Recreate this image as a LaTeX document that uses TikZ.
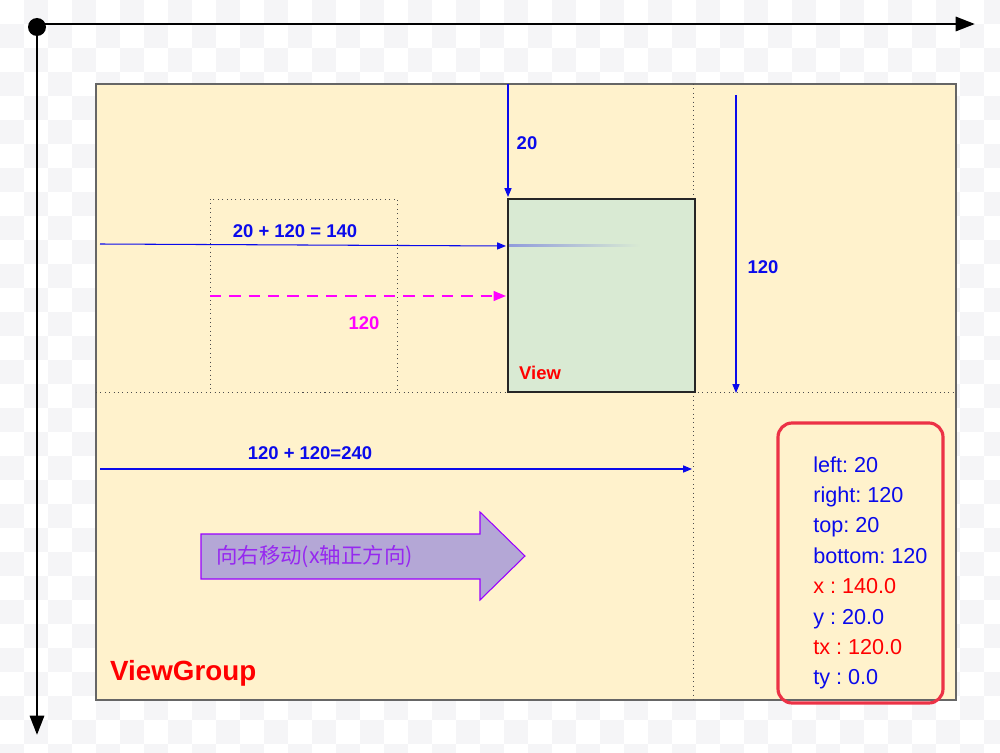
\documentclass[tikz,border=0pt]{standalone}
\usepackage{fontspec}
\setmainfont{Liberation Sans}
\newfontfamily\cjk{Noto Sans CJK SC}
\usetikzlibrary{arrows.meta}
\definecolor{groupyellow}{RGB}{255,242,204}
\definecolor{viewgreen}{RGB}{217,234,211}
\definecolor{measureblue}{RGB}{10,10,235}
\definecolor{shiftmagenta}{RGB}{255,0,255}
\definecolor{infored}{RGB}{236,50,70}
\definecolor{movefill}{RGB}{180,167,214}
\definecolor{moveline}{RGB}{153,0,255}
\definecolor{movetext}{RGB}{150,40,240}
\definecolor{checkgray}{RGB}{245,245,247}
\frenchspacing

\begin{document}
\begin{tikzpicture}[
    x=0.2mm, y=-0.2mm,
    axis/.style={line width=1.7pt, -{Triangle[length=11pt, width=8pt]}},
    dim/.style={measureblue, line width=0.6pt, -{Triangle[length=5pt, width=4pt]}},
    guide/.style={dotted, line width=0.5pt, black!70},
    dimlabel/.style={font=\bfseries\fontsize{10.5}{12}\selectfont, text=measureblue},
    >=Triangle
]
\useasboundingbox (0,0) rectangle (1000,753);
% transparent background
\fill[white] (0,0) rectangle (1000,753);
\foreach \i in {0,...,41}{
  \foreach \j in {0,...,31}{
    \pgfmathtruncatemacro\odd{mod(\i+\j,2)}
    \ifnum\odd=1 \fill[checkgray] (\i*24,\j*24) rectangle ++(24,24); \fi
  }
}

% coordinate axes
\coordinate (origin) at (37,27);
\coordinate (xend) at (975,24);
\coordinate (yend) at (37,735);
\draw[axis] (37,24) -- (xend);
\draw[axis] (origin) -- (yend);
\fill (origin) circle (9);

% parent group
\draw[black!60, fill=groupyellow, line width=0.6pt] (96,84) rectangle (956,700);
\draw[guide] (96,392) -- (956,392);
\draw[guide] (693,84) -- (693,700);
\node[font=\bfseries\fontsize{15.8}{18}\selectfont, text=red, anchor=west] (grouplabel) at (104,673) {ViewGroup};

% old and new position of the child
\draw[guide] (210,199) rectangle (397,392);
\draw[black!85, fill=viewgreen, line width=0.6pt] (508,199) rectangle (695,392);
\shade[left color=measureblue!35!viewgreen, right color=viewgreen] (509,244.5) rectangle (640,246);
\node[font=\bfseries\fontsize{10.5}{12}\selectfont, text=red] (viewlabel) at (540,373) {View};

% measurements
\coordinate (topstart) at (508,84);
\coordinate (topend) at (508,197);
\draw[dim] (topstart) -- (topend);
\node[dimlabel] (toplabel) at (527,143) {20};

\coordinate (xstart) at (100,244);
\coordinate (xend2) at (506,246);
\draw[dim] (xstart) -- (xend2);
\node[dimlabel] (xlabel) at (295,231) {20 + 120 = 140};

\coordinate (txstart) at (210,296);
\coordinate (txend) at (506,296);
\draw[shiftmagenta, line width=1.1pt, dash pattern=on 6.5pt off 4.5pt, -{Triangle[length=7pt, width=5.5pt]}] (txstart) -- (txend);
\node[dimlabel, text=shiftmagenta] (txlabel) at (364,323) {120};

\coordinate (bstart) at (736,95);
\coordinate (bend) at (736,393);
\draw[dim] (bstart) -- (bend);
\node[dimlabel] (blabel) at (763,267) {120};

\coordinate (rstart) at (100,469);
\coordinate (rend) at (692,469);
\draw[dim] (rstart) -- (rend);
\node[dimlabel] (rlabel) at (310,453) {120 + 120=240};

% direction of the move
\draw[moveline, fill=movefill, line width=0.6pt]
  (201,534) -- (480,534) -- (480,512) -- (525,556) -- (480,600) -- (480,579) -- (201,579) -- cycle;
\node[font=\cjk\fontsize{12.2}{14}\selectfont, text=movetext, anchor=west] (movelabel) at (210,557) {向右移动(x轴正方向)};

% property list
\draw[infored, line width=1.8pt, rounded corners=8] (778,423) rectangle (943,703);
\foreach \prop/\col [count=\i] in {left: 20/measureblue, right: 120/measureblue, top: 20/measureblue, bottom: 120/measureblue, x : 140.0/red, y : 20.0/measureblue, tx : 120.0/red, ty : 0.0/measureblue}
  \node[anchor=base west, inner sep=0, text=\col, font=\fontsize{12.3}{14}\selectfont] (prop\i) at (813,{472+30.4*(\i-1)}) {\prop};
\end{tikzpicture}
\end{document}
